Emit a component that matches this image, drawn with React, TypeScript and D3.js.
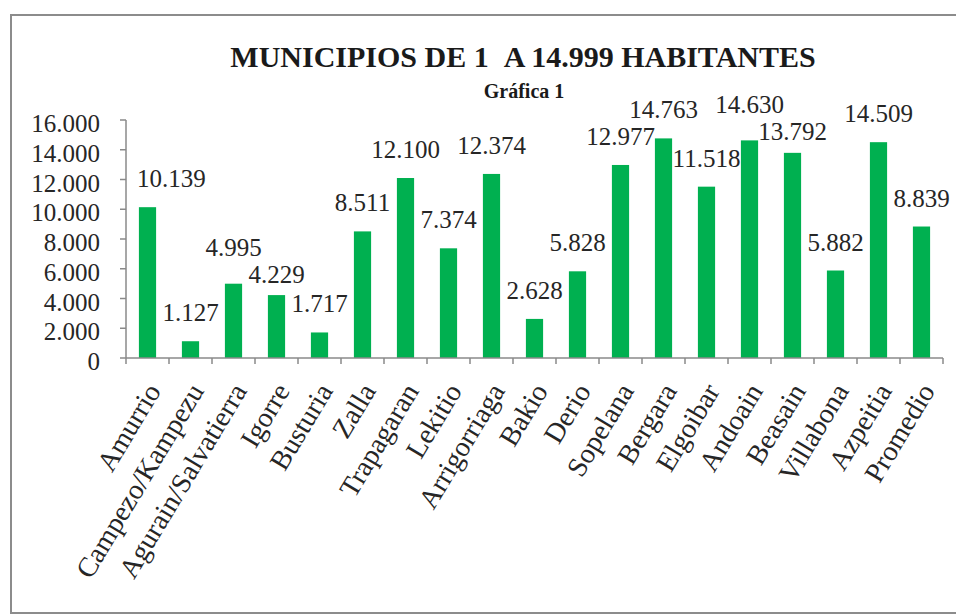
import React from "react";
import * as d3 from "d3";

const categories = [
  "Amurrio", "Campezo/Kampezu", "Agurain/Salvatierra", "Igorre", "Busturia",
  "Zalla", "Trapagaran", "Lekitio", "Arrigorriaga", "Bakio", "Derio",
  "Sopelana", "Bergara", "Elgoibar", "Andoain", "Beasain", "Villabona",
  "Azpeitia", "Promedio",
];
const values = [
  10139, 1127, 4995, 4229, 1717, 8511, 12100, 7374, 12374, 2628, 5828,
  12977, 14763, 11518, 14630, 13792, 5882, 14509, 8839,
];
const yTicks = [0, 2000, 4000, 6000, 8000, 10000, 12000, 14000, 16000];
const title = "MUNICIPIOS DE 1\u00a0\u00a0A 14.999 HABITANTES";
const subtitle = "Gráfica 1";

const W = 956;
const H = 615;
const left = 126;
const right = 943;
const top = 120;
const bottom = 358;
const FONT = "'Liberation Serif', 'Times New Roman', serif";
const TEXT = "#262626";
const AXIS = "#8a8a8a";
const GREEN = "#00B050";

const locale = d3.formatLocale({ decimal: ",", thousands: ".", grouping: [3], currency: ["", "€"] });
const fmt = locale.format(",d");

export default function App() {
  const x = d3.scaleBand<string>().domain(categories).range([left, right]).padding(0);
  const y = d3.scaleLinear().domain([0, 16000]).range([bottom, top]);
  const bw = x.bandwidth() * 0.4;
  const labelSize = 25;
  const estWidth = (s: string) =>
    s.split("").reduce((a, c) => a + (c === "." ? 0.25 : 0.5), 0) * labelSize;

  // data label layout: above bar, avoid axis and neighbouring labels
  const labels = categories.map((c, i) => {
    const s = fmt(values[i]);
    const w = estWidth(s);
    let cx = (x(c) as number) + x.bandwidth() / 2;
    if (cx - w / 2 < left + 11) cx = left + 11 + w / 2;
    return { s, w, cx, by: y(values[i]) - 20 };
  });
  const minSep = 27;
  for (let i = 0; i < labels.length - 1; i++) {
    const a = labels[i];
    const b = labels[i + 1];
    const hOverlap = a.cx + a.w / 2 > b.cx - b.w / 2 + 2;
    const d = Math.abs(a.by - b.by);
    if (hOverlap && d < minSep) {
      const push = (minSep - d) / 2;
      if (a.by <= b.by) { a.by -= push; b.by += push; } else { a.by += push; b.by -= push; }
    }
  }

  return (
    <svg width={W} height={H} style={{ position: "absolute", left: 0, top: 0, background: "#fff" }}
      fontFamily={FONT}>
      <rect x={0} y={0} width={W} height={H} fill="#fff" />
      <rect x={11} y={15} width={980} height={598} fill="#fff" stroke="#8c8c8c" strokeWidth={2} />
      <text x={523} y={67} textAnchor="middle" fontSize={30} fontWeight="bold" fill="#1a1a1a">{title}</text>
      <text x={524} y={98} textAnchor="middle" fontSize={20} fontWeight="bold" fill="#1a1a1a">{subtitle}</text>

      {/* y axis */}
      <line x1={left} x2={left} y1={top} y2={bottom} stroke={AXIS} strokeWidth={1.5} />
      {yTicks.map((t) => (
        <g key={t}>
          <line x1={left - 6} x2={left} y1={y(t)} y2={y(t)} stroke={AXIS} strokeWidth={1.5} />
          <text x={100} y={y(t) + 12} textAnchor="end" fontSize={25} fill={TEXT}>{fmt(t)}</text>
        </g>
      ))}

      {/* bars */}
      {categories.map((c, i) => {
        const cx = (x(c) as number) + x.bandwidth() / 2;
        return (
          <rect key={c} x={cx - bw / 2} y={y(values[i])} width={bw} height={bottom - y(values[i])}
            fill={GREEN} />
        );
      })}

      {/* x axis */}
      <line x1={left} x2={right} y1={bottom} y2={bottom} stroke={AXIS} strokeWidth={1.5} />
      {categories.map((c) => (
        <line key={"t" + c} x1={x(c) as number} x2={x(c) as number} y1={bottom} y2={bottom + 6}
          stroke={AXIS} strokeWidth={1.5} />
      ))}
      <line x1={right} x2={right} y1={bottom} y2={bottom + 6} stroke={AXIS} strokeWidth={1.5} />

      {/* data labels */}
      {labels.map((l, i) => (
        <text key={"l" + i} x={l.cx} y={l.by} textAnchor="middle" fontSize={labelSize}
          fill={TEXT}>{l.s}</text>
      ))}

      {/* category labels */}
      {categories.map((c) => {
        const cx = (x(c) as number) + x.bandwidth() / 2 + 6;
        const ty = bottom + 28;
        return (
          <text key={"c" + c} transform={`translate(${cx},${ty}) rotate(-59)`} textAnchor="end"
            dominantBaseline="central" fontSize={28} fill={TEXT}>{c}</text>
        );
      })}
    </svg>
  );
}
